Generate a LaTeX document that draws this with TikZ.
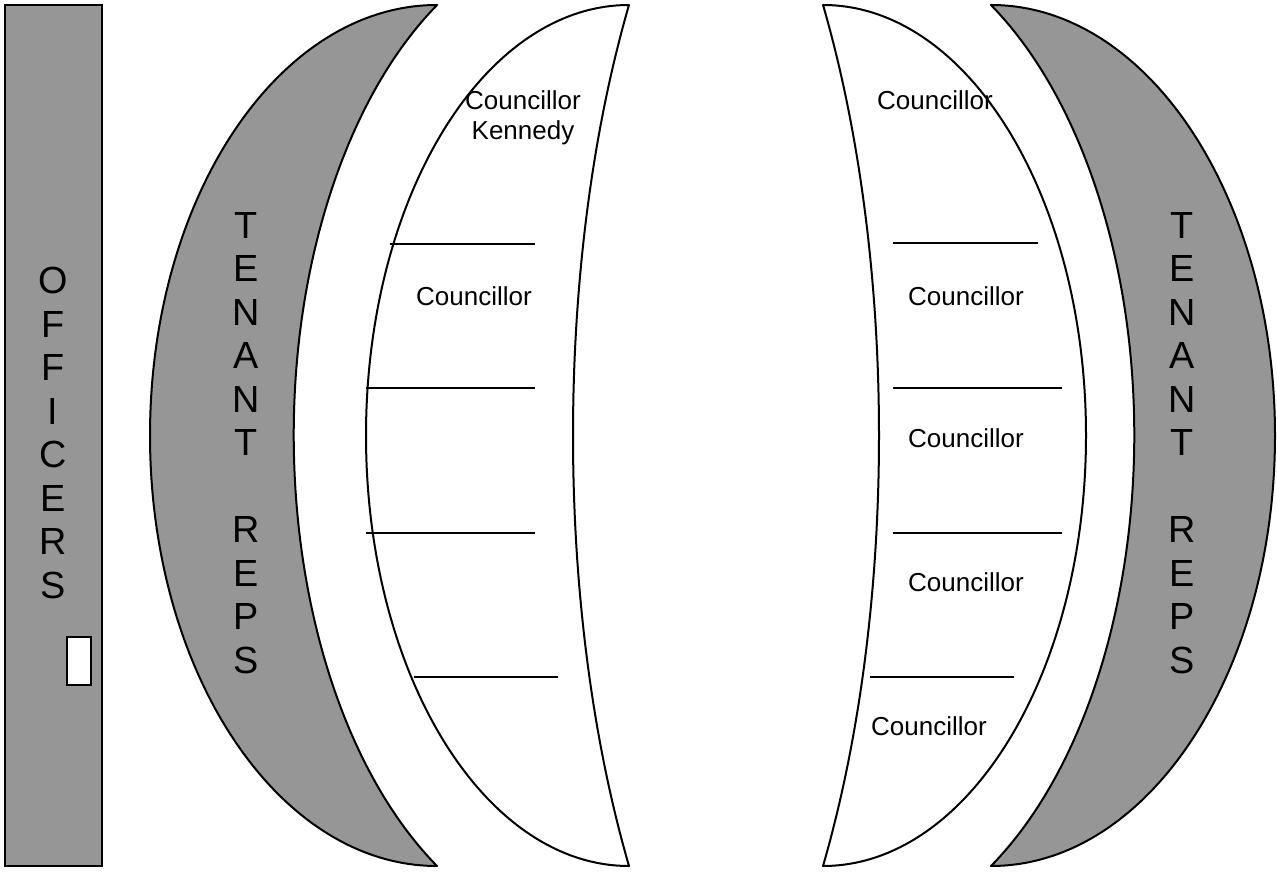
\documentclass[tikz,border=0pt]{standalone}
\usepackage{fontspec}
\setmainfont{Liberation Sans}
\tikzset{
  crescentgray/.style={draw=black, line width=2pt, fill=crgray, line join=round},
  crescentwhite/.style={draw=black, line width=2pt, fill=white, line join=round},
  officebox/.style={draw=black, line width=2.8pt, fill=crgray},
  seatline/.style={draw=black, line width=1.7pt},
  bigletters/.style={align=center, inner sep=0pt, font=\fontsize{37.8}{43.5}\selectfont},
  smalltext/.style={align=center, inner sep=0pt, font=\fontsize{26}{30}\selectfont},
}
\definecolor{crgray}{RGB}{150,150,150}
\begin{document}
\begin{tikzpicture}[x=1pt,y=1pt]
\useasboundingbox (0,0) rectangle (1277,871);
% officers column
\draw[officebox] (5,5) rectangle (102,866);
\draw[draw=black, line width=2.4pt, fill=white] (67,186) rectangle (91,234);
\node[bigletters] (officers) at (53,438) {O\\F\\F\\I\\C\\E\\R\\S};
% left gray crescent
\draw[crescentgray] (437,866) arc[start angle=90, end angle=270, x radius=287, y radius=430.5]
  arc[start angle=239.04, end angle=120.96, x radius=295, y radius=502] -- cycle;
\node[bigletters] (tenantL) at (246,428) {T\\E\\N\\A\\N\\T\\~\\R\\E\\P\\S};
% left white crescent
\draw[crescentwhite] (629,866) arc[start angle=90, end angle=270, x radius=263, y radius=430.5]
  arc[start angle=215.58, end angle=144.42, x radius=300, y radius=740] -- cycle;
% right white crescent
\draw[crescentwhite] (823,866) arc[start angle=90, end angle=-90, x radius=263, y radius=430.5]
  arc[start angle=-35.58, end angle=35.58, x radius=300, y radius=740] -- cycle;
% right gray crescent
\draw[crescentgray] (991,866) arc[start angle=90, end angle=-90, x radius=284, y radius=430.5]
  arc[start angle=-59.04, end angle=59.04, x radius=295, y radius=502] -- cycle;
\node[bigletters] (tenantR) at (1182,428) {T\\E\\N\\A\\N\\T\\~\\R\\E\\P\\S};
% seat lines left
\coordinate (la1) at (390,627); \coordinate (lb1) at (535,627);
\coordinate (la2) at (366,483); \coordinate (lb2) at (535,483);
\coordinate (la3) at (366,338); \coordinate (lb3) at (535,338);
\coordinate (la4) at (414,194); \coordinate (lb4) at (558,194);
\draw[seatline] (la1) -- (lb1);
\draw[seatline] (la2) -- (lb2);
\draw[seatline] (la3) -- (lb3);
\draw[seatline] (la4) -- (lb4);
% seat lines right
\coordinate (ra1) at (893,628); \coordinate (rb1) at (1038,628);
\coordinate (ra2) at (893,483); \coordinate (rb2) at (1062,483);
\coordinate (ra3) at (893,338); \coordinate (rb3) at (1062,338);
\coordinate (ra4) at (870,194); \coordinate (rb4) at (1014,194);
\draw[seatline] (ra1) -- (rb1);
\draw[seatline] (ra2) -- (rb2);
\draw[seatline] (ra3) -- (rb3);
\draw[seatline] (ra4) -- (rb4);
% councillor labels
\node[smalltext] (kennedy) at (523,753) {Councillor\\Kennedy};
\node[smalltext] (cl2) at (474,575) {Councillor};
\node[smalltext] (cr1) at (935,771) {Councillor};
\node[smalltext] (cr2) at (966,575) {Councillor};
\node[smalltext] (cr3) at (966,433) {Councillor};
\node[smalltext] (cr4) at (966,289) {Councillor};
\node[smalltext] (cr5) at (929,145) {Councillor};
\end{tikzpicture}
\end{document}
